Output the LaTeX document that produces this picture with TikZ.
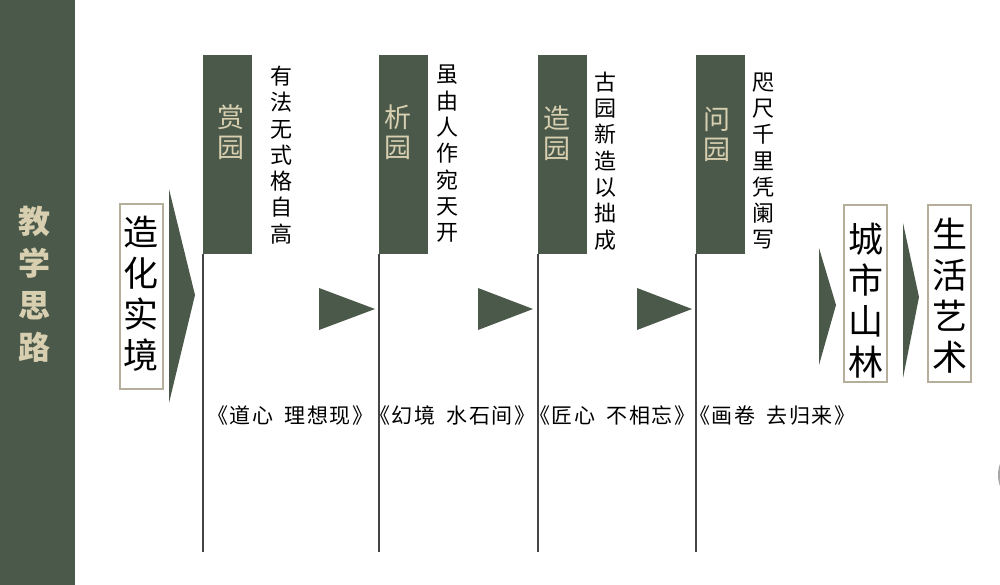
\documentclass[tikz,border=0pt]{standalone}
\usepackage{fontspec}
\newfontfamily\cjk{Noto Sans CJK SC}
\newfontfamily\cjkwide[LetterSpace=7]{Noto Sans CJK SC}
\definecolor{dkgreen}{HTML}{4A594A}
\definecolor{beige}{HTML}{D8CFB0}
\definecolor{boxline}{HTML}{B5AE9A}
\definecolor{vline}{HTML}{454545}
\tikzset{
  stagebox/.style={fill=dkgreen, minimum width=49, minimum height=199, anchor=north west, inner sep=0},
  stagelabel/.style={font=\cjk\fontsize{27}{30}\selectfont, text=beige, align=center, inner sep=0},
  sidetext/.style={font=\cjk\fontsize{22}{26.3}\selectfont, text=black, align=center, inner sep=0},
  bigbox/.style={draw=boxline, line width=2pt, fill=white, minimum width=43, inner sep=0},
  bigtext/.style={font=\cjk\fontsize{35}{41}\selectfont, text=black, align=center, inner sep=0},
  bottomlabel/.style={font=\cjkwide\fontsize{21}{24}\selectfont, text=black, anchor=west, inner sep=0},
  colline/.style={draw=vline, line width=1.1pt},
  arrowtri/.style={fill=dkgreen}
}
\begin{document}
\begin{tikzpicture}[x=1pt,y=-1pt]
\useasboundingbox (0,0) rectangle (1000,585);
\fill[white] (0,0) rectangle (1000,585);
% left bar
\node[fill=dkgreen, minimum width=75, minimum height=585, anchor=north west, inner sep=0] (bar) at (0,0) {};
\node[font=\cjk\bfseries\fontsize{32}{42}\selectfont, text=beige, align=center, inner sep=0] (title) at (34,284) {教\\学\\思\\路};
% first box
\node[bigbox, minimum height=185] (b0) at (141,296.5) {};
\node[bigtext] (t0) at (141,294) {造\\化\\实\\境};
\fill[arrowtri] (169,189) -- (195,295) -- (169,403) -- cycle;
% stage boxes
\node[stagebox] (s1) at (203,55) {};
\node[stagebox] (s2) at (379,55) {};
\node[stagebox] (s3) at (538,55) {};
\node[stagebox] (s4) at (696,55) {};
\node[stagelabel] (l1) at (231,132) {赏\\园};
\node[stagelabel] (l2) at (398,132) {析\\园};
\node[stagelabel] (l3) at (557,133) {造\\园};
\node[stagelabel] (l4) at (717,134) {问\\园};
% column lines
\coordinate (e1) at (203,552);
\coordinate (e2) at (379,552);
\coordinate (e3) at (538,552);
\coordinate (e4) at (696,552);
\draw[colline] (s1.south west) -- (e1);
\draw[colline] (s2.south west) -- (e2);
\draw[colline] (s3.south west) -- (e3);
\draw[colline] (s4.south west) -- (e4);
% side texts
\node[sidetext] (d1) at (281,155) {有\\法\\无\\式\\格\\自\\高};
\node[sidetext] (d2) at (447,154) {虽\\由\\人\\作\\宛\\天\\开};
\node[sidetext] (d3) at (605,161) {古\\园\\新\\造\\以\\拙\\成};
\node[sidetext] (d4) at (763,161) {咫\\尺\\千\\里\\凭\\阑\\写};
% small triangles
\fill[arrowtri] (319,288) -- (375,309) -- (319,330) -- cycle;
\fill[arrowtri] (478,288) -- (533,309) -- (478,330) -- cycle;
\fill[arrowtri] (637,288) -- (692,309) -- (637,330) -- cycle;
% bottom labels
\node[bottomlabel] (q1) at (207,416) {《道心\hspace{0.55em}理想现》};
\node[bottomlabel] (q2) at (369,416) {《幻境\hspace{0.55em}水石间》};
\node[bottomlabel] (q3) at (529,416) {《匠心\hspace{0.55em}不相忘》};
\node[bottomlabel] (q4) at (689,416) {《画卷\hspace{0.55em}去归来》};
% right boxes
\fill[arrowtri] (819,248) -- (836,305) -- (819,365) -- cycle;
\node[bigbox, minimum height=177] (b1) at (865.5,293.5) {};
\node[bigtext] (t1) at (865.5,301) {城\\市\\山\\林};
\fill[arrowtri] (903,223) -- (919,297) -- (903,378) -- cycle;
\node[bigbox, minimum height=177] (b2) at (949.5,293.5) {};
\node[bigtext] (t2) at (949.5,296) {生\\活\\艺\\术};
% right-edge sliver
\fill[gray!70] (1011,475) ellipse [x radius=13, y radius=21];
\end{tikzpicture}
\end{document}
